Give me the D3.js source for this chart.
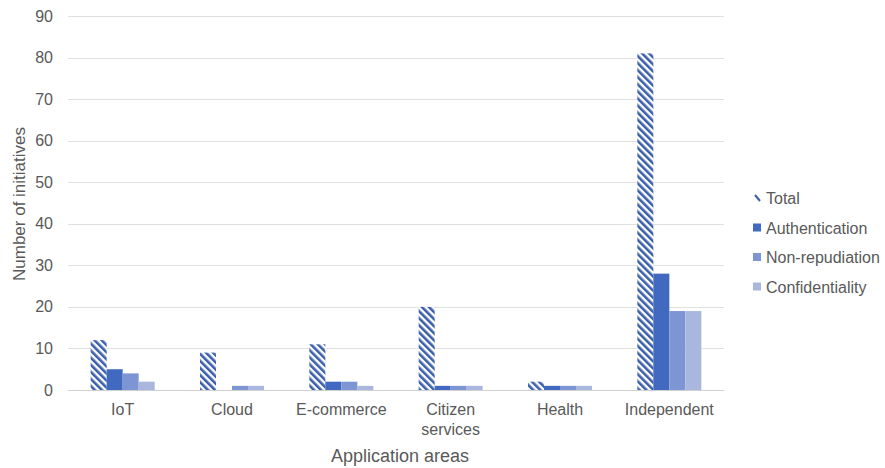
<!DOCTYPE html>
<html>
<head>
<meta charset="utf-8">
<script src="https://cdn.jsdelivr.net/npm/d3@7"></script>
<style>
  body { margin: 0; background: #fff; }
  text { font-family: "Liberation Sans", Arial, sans-serif; fill: #595959; }
</style>
</head>
<body>
<div id="chart"></div>
<script>
var categories = ["IoT", "Cloud", "E-commerce", "Citizen services", "Health", "Independent"];
var seriesNames = ["Total", "Authentication", "Non-repudiation", "Confidentiality"];
var total = [12, 9, 11, 20, 2, 81];
var authentication = [5, 0, 2, 1, 1, 28];
var nonRepudiation = [4, 1, 2, 1, 1, 19];
var confidentiality = [2, 1, 1, 1, 1, 19];
var yTicks = [0, 10, 20, 30, 40, 50, 60, 70, 80, 90];

var seriesValues = [total, authentication, nonRepudiation, confidentiality];
var colors = ["url(#hatch)", "#4169c0", "#7d96d3", "#a9b7df"];

var w = 885, h = 468;
var plotLeft = 68, plotRight = 724, plotTop = 16, plotBottom = 390;

var svg = d3.select("#chart")
  .append("svg")
  .attr("width", w)
  .attr("height", h);

var defs = svg.append("defs");
var pat = defs.append("pattern")
  .attr("id", "hatch")
  .attr("patternUnits", "userSpaceOnUse")
  .attr("width", 5)
  .attr("height", 5)
  .attr("patternTransform", "rotate(-45)");
pat.append("rect").attr("width", 5).attr("height", 5).attr("fill", "#fff");
pat.append("rect").attr("width", 2.6).attr("height", 5).attr("fill", "#3b5eab");

var x0 = d3.scaleBand()
  .domain(categories)
  .range([plotLeft, plotRight]);

var x1 = d3.scaleBand()
  .domain(seriesNames)
  .range([0, 64]);

var y = d3.scaleLinear()
  .domain([0, 90])
  .range([plotBottom, plotTop]);

// gridlines
svg.append("g")
  .selectAll("line")
  .data(yTicks)
  .enter()
  .append("line")
  .attr("x1", plotLeft)
  .attr("x2", plotRight)
  .attr("y1", function(d) { return Math.round(y(d)) + 0.5; })
  .attr("y2", function(d) { return Math.round(y(d)) + 0.5; })
  .attr("stroke", function(d) { return d == 0 ? "#d0d0d0" : "#e0e0e0"; })
  .attr("stroke-width", 1);

// y tick labels
svg.append("g")
  .selectAll("text")
  .data(yTicks)
  .enter()
  .append("text")
  .attr("x", 53)
  .attr("y", function(d) { return y(d) + 5.5; })
  .attr("text-anchor", "end")
  .style("font-size", "16px")
  .text(function(d) { return d; });

// bars
var groups = svg.append("g")
  .selectAll("g.series")
  .data(seriesNames)
  .enter()
  .append("g")
  .attr("class", "series");

groups.selectAll("rect")
  .data(function(s, si) {
    return categories.map(function(c, ci) {
      return { cat: c, series: s, si: si, value: seriesValues[si][ci] };
    });
  })
  .enter()
  .append("rect")
  .attr("x", function(d) { return x0(d.cat) + x0.bandwidth() / 2 - 32 + x1(d.series); })
  .attr("y", function(d) { return y(d.value); })
  .attr("width", x1.bandwidth())
  .attr("height", function(d) { return y(0) - y(d.value); })
  .attr("fill", function(d) { return colors[d.si]; });

// x labels
var xl = svg.append("g")
  .selectAll("text")
  .data(categories)
  .enter()
  .append("text")
  .attr("x", function(d) { return x0(d) + x0.bandwidth() / 2; })
  .attr("y", 415)
  .attr("text-anchor", "middle")
  .style("font-size", "16px");

xl.each(function(d) {
  var t = d3.select(this);
  var parts = d == "Citizen services" ? ["Citizen", "services"] : [d];
  parts.forEach(function(p, i) {
    t.append("tspan")
      .attr("x", x0(d) + x0.bandwidth() / 2)
      .attr("dy", i == 0 ? 0 : 20)
      .text(p);
  });
});

// axis titles
svg.append("text")
  .attr("x", 400)
  .attr("y", 462)
  .attr("text-anchor", "middle")
  .style("font-size", "18px")
  .text("Application areas");

svg.append("text")
  .attr("transform", "translate(25," + 204 + ") rotate(-90)")
  .attr("text-anchor", "middle")
  .style("font-size", "17px")
  .text("Number of initiatives");

// legend
var legend = svg.append("g")
  .selectAll("g.legend")
  .data(seriesNames)
  .enter()
  .append("g")
  .attr("class", "legend")
  .attr("transform", function(d, i) { return "translate(753," + (198 + i * 29.5) + ")"; });

legend.append("rect")
  .attr("x", 0)
  .attr("y", -4)
  .attr("width", 8)
  .attr("height", 8)
  .attr("fill", function(d, i) { return i == 0 ? "none" : colors[i]; });

legend.filter(function(d, i) { return i == 0; })
  .append("line")
  .attr("x1", 2)
  .attr("y1", -3)
  .attr("x2", 7)
  .attr("y2", 3)
  .attr("stroke", "#3b5eab")
  .attr("stroke-width", 2);

legend.append("text")
  .attr("x", 13)
  .attr("y", 6)
  .style("font-size", "16px")
  .text(function(d) { return d; });
</script>
</body>
</html>
